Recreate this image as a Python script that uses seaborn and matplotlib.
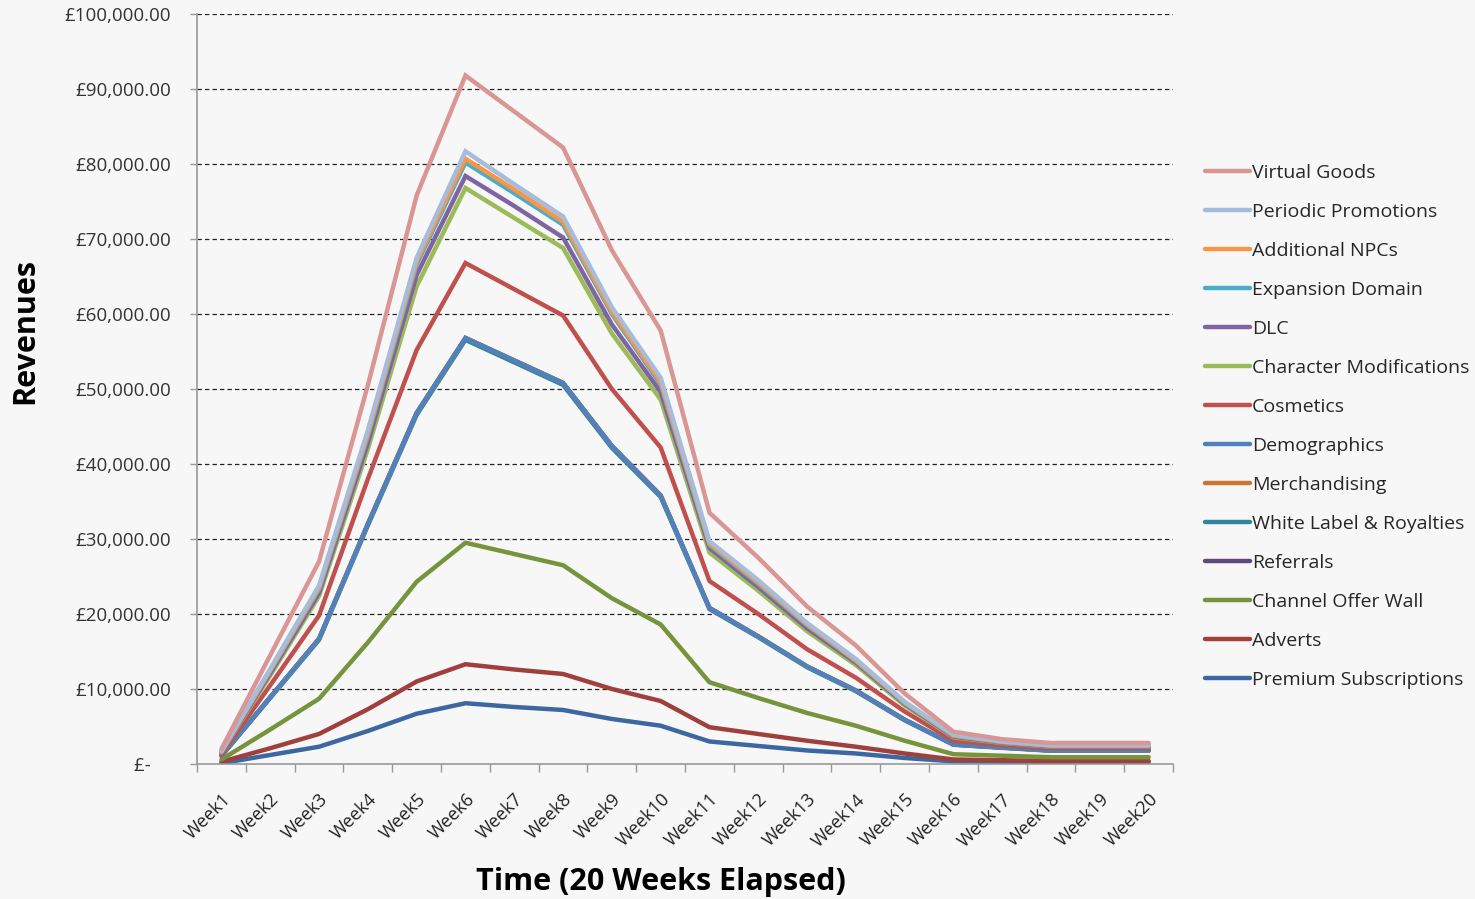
import numpy as np
import pandas as pd
import matplotlib
matplotlib.use("Agg")
import matplotlib.pyplot as plt
from matplotlib.ticker import FuncFormatter, FixedLocator
from matplotlib.lines import Line2D
import seaborn as sns

weeks = [f"Week{i}" for i in range(1, 21)]

# Revenue per income stream, weeks 1-20 (GBP)
virtual_goods = [2000, 14500, 27000, 50500, 75800, 91800, 87000, 82200, 68500, 57800,
                 33500, 27500, 21000, 15800, 9400, 4300, 3300, 2800, 2800, 2800]
periodic_promotions = [1700, 12700, 23800, 44500, 67500, 81700, 77300, 73000, 60900, 51500,
                       29700, 24500, 18800, 14000, 8300, 3900, 3000, 2500, 2500, 2500]
additional_npcs = [1650, 12500, 23500, 44000, 67000, 80700, 76600, 72300, 60300, 50900,
                   29400, 24200, 18600, 13800, 8200, 3800, 2950, 2450, 2450, 2450]
expansion_domain = [1620, 12400, 23300, 43700, 66600, 80200, 76100, 71900, 60000, 50600,
                    29200, 24000, 18500, 13700, 8100, 3750, 2900, 2400, 2400, 2400]
dlc = [1580, 12100, 22800, 42800, 65200, 78400, 74400, 70200, 58600, 49600,
       28800, 23600, 18100, 13500, 8000, 3650, 2850, 2350, 2350, 2350]
character_modifications = [1550, 11800, 22400, 42000, 63700, 76800, 72800, 68800, 57400, 48600,
                           28200, 23100, 17700, 13200, 7800, 3550, 2800, 2300, 2300, 2300]
cosmetics = [1300, 10500, 19800, 38000, 55200, 66800, 63300, 59800, 50000, 42200,
             24400, 20000, 15300, 11500, 7000, 3100, 2500, 2100, 2100, 2100]
demographics = [1100, 8900, 16700, 32000, 46800, 56800, 53800, 50800, 42400, 35800,
                20800, 17000, 13000, 9800, 5900, 2600, 2200, 1800, 1800, 1800]
merchandising = [1100, 8900, 16700, 32000, 46800, 56800, 53800, 50800, 42400, 35800,
                 20800, 17000, 13000, 9800, 5900, 2600, 2200, 1800, 1800, 1800]
white_label = [1080, 8800, 16550, 31800, 46550, 56550, 53550, 50550, 42150, 35600,
               20650, 16900, 12900, 9700, 5820, 2560, 2150, 1760, 1760, 1760]
referrals = [1100, 8900, 16700, 32000, 46800, 56800, 53800, 50800, 42400, 35800,
             20800, 17000, 13000, 9800, 5900, 2600, 2200, 1800, 1800, 1800]
channel_offer_wall = [600, 4600, 8700, 16200, 24300, 29500, 28000, 26500, 22100, 18600,
                      10900, 8800, 6800, 5100, 3100, 1300, 1100, 900, 900, 900]
adverts = [300, 2100, 4000, 7300, 11000, 13300, 12600, 12000, 10000, 8400,
           4900, 4000, 3100, 2300, 1400, 600, 500, 400, 400, 400]
premium_subscriptions = [100, 1200, 2300, 4400, 6700, 8100, 7600, 7200, 6000, 5100,
                         3000, 2400, 1800, 1400, 800, 350, 300, 250, 250, 250]

series_names = ["Virtual Goods", "Periodic Promotions", "Additional NPCs", "Expansion Domain",
                "DLC", "Character Modifications", "Cosmetics", "Demographics",
                "Merchandising", "White Label & Royalties", "Referrals",
                "Channel Offer Wall", "Adverts", "Premium Subscriptions"]
series_values = [virtual_goods, periodic_promotions, additional_npcs, expansion_domain,
                 dlc, character_modifications, cosmetics, demographics,
                 merchandising, white_label, referrals,
                 channel_offer_wall, adverts, premium_subscriptions]
series_colors = ["#D99694", "#A5BCDC", "#F79646", "#4BACC6",
                 "#8064A2", "#9BBB59", "#C0504D", "#4F81BD",
                 "#CC7233", "#31859C", "#5F497A",
                 "#77933C", "#A0403C", "#3C67A0"]

rows = []
for name, vals in zip(series_names, series_values):
    for i, v in enumerate(vals):
        rows.append({"week": i, "stream": name, "revenue": v})
df = pd.DataFrame(rows)

sns.set_theme(style="white")
bg = "#F7F7F7"
plt.rcParams["font.family"] = ["Open Sans", "DejaVu Sans"]

fig = plt.figure(figsize=(14.75, 8.99), dpi=100, facecolor=bg)
ax = fig.add_axes([0.1336, 0.1502, 0.6617, 0.8342])
ax.set_facecolor(bg)

palette = dict(zip(series_names, series_colors))
draw_order = list(reversed(series_names))
sns.lineplot(data=df, x="week", y="revenue", hue="stream", hue_order=draw_order,
             palette=palette, linewidth=3.2, legend=False, ax=ax,
             solid_joinstyle="miter")
ax.set_xlabel("")
ax.set_ylabel("")

ax.set_xlim(-0.5, 19.5)
ax.set_ylim(0, 100000)

# y axis: dashed gridlines and currency labels
ax.set_yticks(np.arange(0, 100001, 10000))
ax.yaxis.set_major_formatter(FuncFormatter(lambda v, p: "£-    " if v == 0 else f"£{v:,.2f}"))
for y in np.arange(10000, 100001, 10000):
    ax.axhline(y, color="#222222", lw=0.9, ls=(0, (3.5, 2.5)), zorder=0)
ax.tick_params(axis="y", which="major", length=5, width=1, color="#999999",
               labelsize=13.5, labelcolor="#333333", pad=14, direction="out", left=True)

# x axis: ticks between categories, labels at category centres
ax.xaxis.set_major_locator(FixedLocator(np.arange(-0.5, 20, 1)))
ax.xaxis.set_minor_locator(FixedLocator(np.arange(0, 20, 1)))
ax.set_xticklabels([], minor=False)
ax.set_xticklabels(weeks, minor=True, rotation=45, ha="right", rotation_mode="anchor")
ax.tick_params(axis="x", which="major", length=6, width=1, color="#999999",
               direction="out", bottom=True)
ax.tick_params(axis="x", which="minor", length=0, labelsize=13, labelcolor="#222222", pad=19)

for side in ["top", "right"]:
    ax.spines[side].set_visible(False)
for side in ["left", "bottom"]:
    ax.spines[side].set_color("#999999")
    ax.spines[side].set_linewidth(1.2)

fig.text(0.448, 0.019, "Time (20 Weeks Elapsed)", fontsize=22, fontweight="bold",
         color="black", ha="center", va="center")
fig.text(0.017, 0.632, "Revenues", fontsize=22, fontweight="bold", color="black",
         ha="center", va="center", rotation=90)

handles = [Line2D([0], [0], color=c, lw=3.2) for c in series_colors]
leg = fig.legend(handles, series_names, loc="upper left", bbox_to_anchor=(0.812, 0.826),
                 frameon=False, fontsize=14, handlelength=2.3, handletextpad=0.1,
                 labelspacing=1.08, borderaxespad=0)
for t in leg.get_texts():
    t.set_color("#262626")

fig.savefig("out.png", dpi=100, facecolor=bg)
